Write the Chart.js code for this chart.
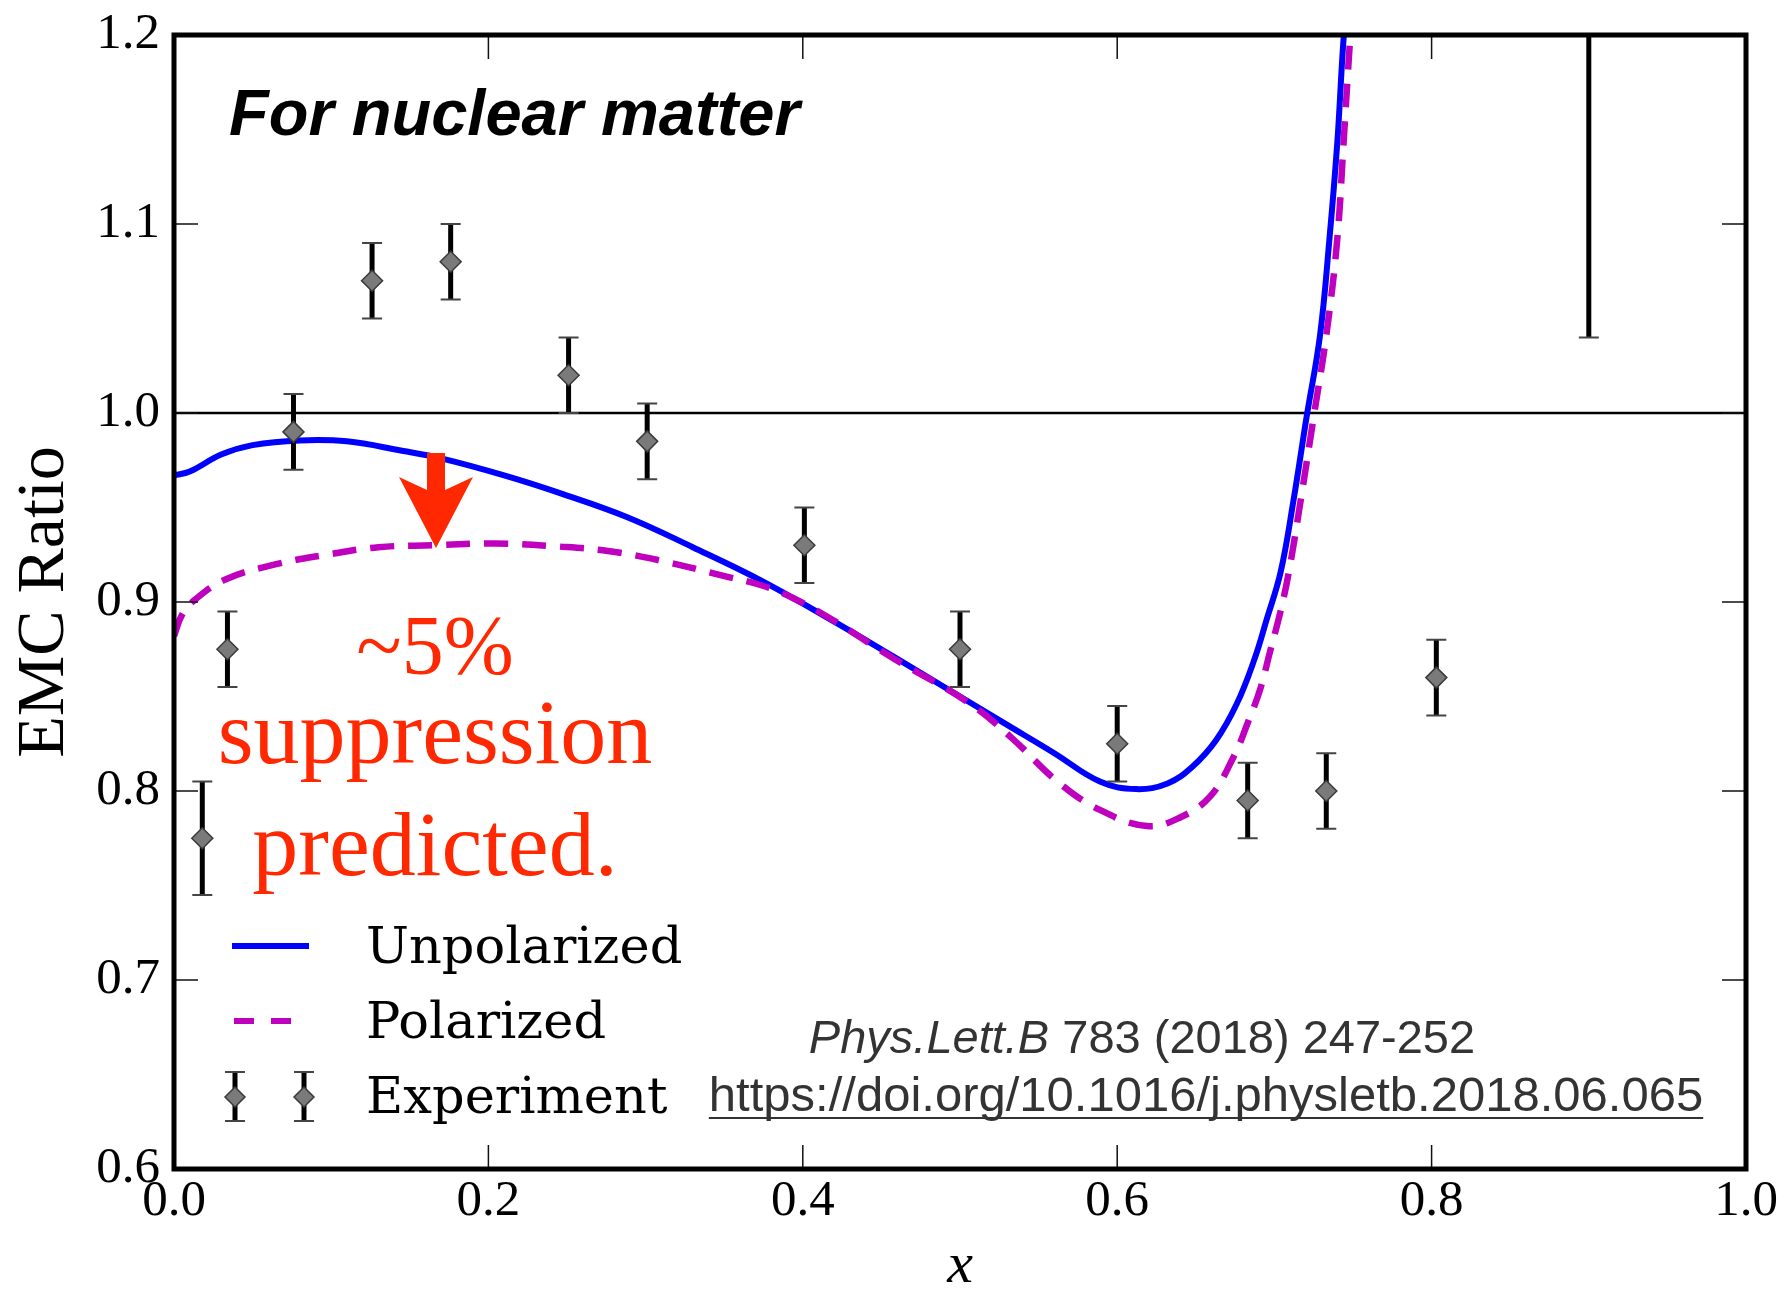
<!DOCTYPE html>
<html>
<head>
<meta charset="utf-8">
<script src="https://cdn.jsdelivr.net/npm/chart.js@4.4.1/dist/chart.umd.min.js"></script>
<style>
  html, body { margin: 0; padding: 0; background: #fff; }
  #wrap { width: 1787px; height: 1294px; }
</style>
</head>
<body>
<div id="wrap"><canvas id="emcChart" width="1787" height="1294"></canvas></div>
<script>
// values
const unpolX = [0.000, 0.010, 0.030, 0.050, 0.080, 0.110, 0.145, 0.170, 0.210, 0.246, 0.288, 0.330,
                0.373, 0.415, 0.458, 0.496, 0.530, 0.560, 0.589, 0.612, 0.632, 0.648, 0.663, 0.676,
                0.687, 0.695, 0.704, 0.712, 0.7205, 0.729, 0.735, 0.740, 0.744, 0.750];
const unpolY = [0.967, 0.969, 0.978, 0.983, 0.9855, 0.985, 0.980, 0.976, 0.967, 0.9575, 0.945, 0.929,
                0.9116, 0.892, 0.871, 0.852, 0.835, 0.820, 0.805, 0.801, 0.804, 0.813, 0.827, 0.846,
                0.869, 0.8905, 0.916, 0.953, 0.998, 1.041, 1.092, 1.143, 1.198, 1.260];

const polX = [0.000, 0.005, 0.013, 0.033, 0.065, 0.097, 0.130, 0.165, 0.204, 0.2455, 0.276, 0.309,
              0.3515, 0.373, 0.394, 0.420, 0.458, 0.505, 0.533, 0.562, 0.589, 0.619, 0.640, 0.659,
              0.674, 0.683, 0.691, 0.697, 0.7036, 0.709, 0.716, 0.725, 0.733, 0.740, 0.744, 0.748, 0.754];
const polY = [0.882, 0.893, 0.901, 0.912, 0.920, 0.925, 0.929, 0.930, 0.931, 0.9293, 0.927, 0.922,
              0.9134, 0.909, 0.902, 0.890, 0.870, 0.847, 0.828, 0.805, 0.790, 0.7815, 0.786, 0.797,
              0.818, 0.836, 0.854, 0.873, 0.894, 0.915, 0.950, 0.998, 1.041, 1.092, 1.143, 1.196, 1.270];

const expX   = [0.018, 0.034, 0.076, 0.126, 0.176, 0.251, 0.301, 0.401, 0.500, 0.600, 0.683, 0.733, 0.803, 0.900];
const expY   = [0.775, 0.875, 0.990, 1.070, 1.080, 1.020, 0.985, 0.930, 0.875, 0.825, 0.795, 0.800, 0.860, 1.340];
const expErr = [0.030, 0.020, 0.020, 0.020, 0.020, 0.020, 0.020, 0.020, 0.020, 0.020, 0.020, 0.020, 0.020, 0.300];

const xTicks = [0.0, 0.2, 0.4, 0.6, 0.8, 1.0];
const yTicks = [0.6, 0.7, 0.8, 0.9, 1.0, 1.1, 1.2];
const legendLabels = ['Unpolarized', 'Polarized', 'Experiment'];

const BLUE = '#0000ff';
const MAGENTA = '#bf00bf';
const RED = '#ff2800';
const DASH = [24, 14];

function toPoints(xs, ys) {
    return xs.map((x, i) => ({ x: x, y: ys[i] }));
}

function diamond(ctx, x, y, r) {
    ctx.beginPath();
    ctx.moveTo(x, y - r);
    ctx.lineTo(x + r, y);
    ctx.lineTo(x, y + r);
    ctx.lineTo(x - r, y);
    ctx.closePath();
    ctx.fillStyle = '#7a7a7a';
    ctx.fill();
    ctx.lineWidth = 1.5;
    ctx.strokeStyle = '#3a3a3a';
    ctx.stroke();
}

function errBar(ctx, px, lo, hi) {
    ctx.strokeStyle = '#000';
    ctx.lineWidth = 5;
    ctx.beginPath();
    ctx.moveTo(px, lo);
    ctx.lineTo(px, hi);
    ctx.stroke();
    ctx.strokeStyle = '#444';
    ctx.lineWidth = 2;
    ctx.beginPath();
    ctx.moveTo(px - 10, lo); ctx.lineTo(px + 10, lo);
    ctx.moveTo(px - 10, hi); ctx.lineTo(px + 10, hi);
    ctx.stroke();
}

// error bars under the diamond markers
const errorBarPlugin = {
    id: 'errorBars',
    beforeDatasetDraw(chart, args) {
        if (args.index !== 2) return;
        const { ctx, chartArea: a, scales: { x, y } } = chart;
        ctx.save();
        ctx.beginPath();
        ctx.rect(a.left, a.top, a.right - a.left, a.bottom - a.top);
        ctx.clip();
        expX.forEach((xv, i) => {
            const px = x.getPixelForValue(xv);
            errBar(ctx, px, y.getPixelForValue(expY[i] - expErr[i]), y.getPixelForValue(expY[i] + expErr[i]));
        });
        ctx.restore();
    }
};

// matplotlib style frame: y=1 line, box, inward ticks, annotations
const framePlugin = {
    id: 'frame',
    beforeDatasetsDraw(chart) {
        const { ctx, chartArea: a, scales: { y } } = chart;
        const py = y.getPixelForValue(1.0);
        ctx.save();
        ctx.strokeStyle = '#000';
        ctx.lineWidth = 2.5;
        ctx.beginPath();
        ctx.moveTo(a.left, py);
        ctx.lineTo(a.right, py);
        ctx.stroke();
        ctx.restore();
    },
    afterDatasetsDraw(chart) {
        const { ctx, chartArea: a, scales: { x, y } } = chart;
        const tl = 24;
        ctx.save();
        ctx.strokeStyle = '#111';
        ctx.lineWidth = 1.5;
        ctx.beginPath();
        xTicks.forEach(v => {
            const px = x.getPixelForValue(v);
            ctx.moveTo(px, a.bottom); ctx.lineTo(px, a.bottom - tl);
            ctx.moveTo(px, a.top); ctx.lineTo(px, a.top + tl);
        });
        yTicks.forEach(v => {
            const py = y.getPixelForValue(v);
            ctx.moveTo(a.left, py); ctx.lineTo(a.left + tl, py);
            ctx.moveTo(a.right, py); ctx.lineTo(a.right - tl, py);
        });
        ctx.stroke();
        ctx.strokeStyle = '#000';
        ctx.lineWidth = 5;
        ctx.strokeRect(a.left, a.top, a.right - a.left, a.bottom - a.top);
        ctx.restore();
    },
    afterDraw(chart) {
        const ctx = chart.ctx;
        ctx.save();

        // title inside plot
        ctx.fillStyle = '#000';
        ctx.textAlign = 'left';
        ctx.textBaseline = 'alphabetic';
        ctx.font = 'italic bold 65px "Liberation Sans", Arial, sans-serif';
        ctx.fillText('For nuclear matter', 229, 135);

        // red arrow
        ctx.fillStyle = RED;
        ctx.beginPath();
        ctx.moveTo(427, 453);
        ctx.lineTo(445, 453);
        ctx.lineTo(445, 490);
        ctx.lineTo(473, 477);
        ctx.lineTo(436, 548);
        ctx.lineTo(399, 477);
        ctx.lineTo(427, 490);
        ctx.closePath();
        ctx.fill();

        // red annotation
        ctx.textAlign = 'center';
        ctx.font = '84px "Liberation Serif", "Times New Roman", serif';
        ctx.fillText('~5%', 435, 674);
        ctx.font = '92px "Liberation Serif", "Times New Roman", serif';
        ctx.fillText('suppression', 435, 763);
        ctx.fillText('predicted.', 435, 875);

        // legend
        ctx.lineCap = 'butt';
        ctx.strokeStyle = BLUE;
        ctx.lineWidth = 6;
        ctx.beginPath();
        ctx.moveTo(232, 946); ctx.lineTo(309, 946);
        ctx.stroke();
        ctx.strokeStyle = MAGENTA;
        ctx.setLineDash([20, 17]);
        ctx.beginPath();
        ctx.moveTo(234, 1021); ctx.lineTo(291, 1021);
        ctx.stroke();
        ctx.setLineDash([]);
        [235, 304].forEach(px => {
            errBar(ctx, px, 1121, 1072);
            diamond(ctx, px, 1097, 10);
        });
        ctx.fillStyle = '#000';
        ctx.textAlign = 'left';
        ctx.font = '51px "DejaVu Serif", serif';
        legendLabels.forEach((t, i) => ctx.fillText(t, 366, 963 + i * 75));

        // citation
        ctx.fillStyle = '#333';
        ctx.textAlign = 'left';
        const l1a = 'Phys.Lett.B';
        const l1b = ' 783 (2018) 247-252';
        ctx.font = 'italic 47px "Liberation Sans", Arial, sans-serif';
        const wa = ctx.measureText(l1a).width;
        ctx.font = '47px "Liberation Sans", Arial, sans-serif';
        const wb = ctx.measureText(l1b).width;
        const sx = 1142 - (wa + wb) / 2;
        ctx.font = 'italic 47px "Liberation Sans", Arial, sans-serif';
        ctx.fillText(l1a, sx, 1053);
        ctx.font = '47px "Liberation Sans", Arial, sans-serif';
        ctx.fillText(l1b, sx + wa, 1053);

        const url = 'https://doi.org/10.1016/j.physletb.2018.06.065';
        ctx.font = '49px "Liberation Sans", Arial, sans-serif';
        const wu = ctx.measureText(url).width;
        const ux = 1206 - wu / 2;
        ctx.fillText(url, ux, 1111);
        ctx.fillRect(ux, 1117, wu, 2);

        ctx.restore();
    }
};

const ctx = document.getElementById('emcChart').getContext('2d');
new Chart(ctx, {
    type: 'line',
    data: {
        datasets: [
            {
                label: legendLabels[0],
                data: toPoints(unpolX, unpolY),
                borderColor: BLUE,
                borderWidth: 6,
                pointRadius: 0,
                tension: 0.4,
                fill: false,
                order: 2
            },
            {
                label: legendLabels[1],
                data: toPoints(polX, polY),
                borderColor: MAGENTA,
                borderWidth: 6.5,
                borderDash: DASH,
                pointRadius: 0,
                tension: 0.4,
                fill: false,
                order: 1
            },
            {
                label: legendLabels[2],
                data: toPoints(expX, expY),
                showLine: false,
                pointStyle: 'rectRot',
                pointRadius: 10.5,
                backgroundColor: '#7a7a7a',
                borderColor: '#3a3a3a',
                borderWidth: 1.5,
                order: 0
            }
        ]
    },
    options: {
        responsive: false,
        animation: false,
        devicePixelRatio: 1,
        layout: { padding: { top: 35, right: 41, left: 0, bottom: 0 } },
        plugins: {
            legend: { display: false },
            tooltip: { enabled: false }
        },
        scales: {
            x: {
                type: 'linear',
                min: 0,
                max: 1,
                afterFit: s => { s.height = 125; s.paddingLeft = 0; s.paddingRight = 0; },
                afterBuildTicks: s => { s.ticks = xTicks.map(v => ({ value: v })); },
                grid: { display: false, drawTicks: false, tickLength: 0 },
                border: { display: false },
                ticks: {
                    padding: 2,
                    maxRotation: 0,
                    color: '#000',
                    font: { family: '"Liberation Serif", "Times New Roman", serif', size: 51 },
                    callback: v => v.toFixed(1)
                },
                title: {
                    display: true,
                    text: 'x',
                    color: '#000',
                    padding: { top: 0, bottom: 0 },
                    font: { family: '"Liberation Serif", "Times New Roman", serif', size: 58, style: 'italic', lineHeight: 0.95 }
                }
            },
            y: {
                min: 0.6,
                max: 1.2,
                afterFit: s => { s.width = 174; s.paddingTop = 0; s.paddingBottom = 0; },
                afterBuildTicks: s => { s.ticks = yTicks.map(v => ({ value: v })); },
                grid: { display: false, drawTicks: false, tickLength: 0 },
                border: { display: false },
                ticks: {
                    padding: 14,
                    color: '#000',
                    font: { family: '"Liberation Serif", "Times New Roman", serif', size: 51 },
                    callback: v => v.toFixed(1)
                },
                title: {
                    display: true,
                    text: 'EMC Ratio',
                    color: '#000',
                    padding: { top: 4, bottom: 0 },
                    font: { family: '"Liberation Serif", "Times New Roman", serif', size: 68, lineHeight: 1.2 }
                }
            }
        }
    },
    plugins: [errorBarPlugin, framePlugin]
});
</script>
</body>
</html>
